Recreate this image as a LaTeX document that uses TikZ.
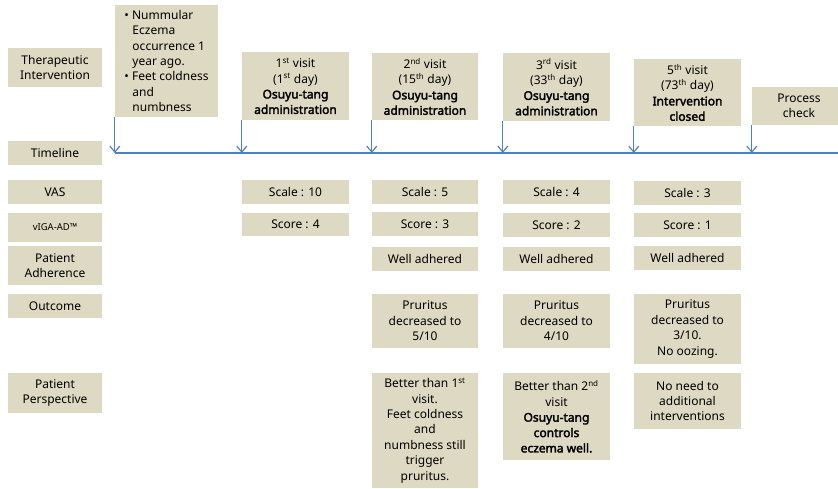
\documentclass[tikz,border=0pt]{standalone}
\usepackage{fontspec}
\setmainfont{Noto Sans}[BoldFont={Noto Sans},BoldFeatures={FakeBold=2.5}]
\usetikzlibrary{arrows.meta}
\definecolor{boxtan}{RGB}{221,217,195}
\definecolor{lineblue}{RGB}{79,129,189}

\begin{document}
\begin{tikzpicture}[x=1pt,y=-1pt,
  font=\fontsize{12}{15.4}\selectfont,
  lbl/.style={fill=boxtan, align=center, inner sep=1pt, minimum width=94pt},
  cell/.style={fill=boxtan, align=center, inner sep=1pt, minimum width=107pt},
  arr/.style={lineblue, line width=1.2pt, -{Straight Barb[length=6pt,width=10pt]}}]
\useasboundingbox (0,0) rectangle (838,488);

% row labels
\node[lbl, minimum height=39pt] (therapy) at (55,67.5) {Therapeutic\\Intervention};
\node[lbl, minimum height=24pt] (timeline) at (55,153) {Timeline};
\node[lbl, minimum height=24pt] (vas) at (55,192) {VAS};
\node[lbl, minimum height=29pt] (viga) at (55,227.5) {{\fontsize{9.5}{11}\selectfont vIGA-AD\texttrademark}};
\node[lbl, minimum height=39pt] (adher) at (55,265.5) {Patient\\Adherence};
\node[lbl, minimum height=24pt] (outcome) at (55,306) {Outcome};
\node[lbl, minimum height=40pt] (persp) at (55,393) {Patient\\Perspective};

% history
\node[fill=boxtan, align=left, inner sep=1pt, minimum width=103pt, minimum height=112pt] (hist) at (166.5,61)
  {\textbullet\ Nummular\\
   \hspace*{8pt}Eczema\\
   \hspace*{8pt}occurrence 1\\
   \hspace*{8pt}year ago.\\
   \textbullet\ Feet coldness\\
   \hspace*{8pt}and\\
   \hspace*{8pt}numbness};

% 1st visit
\node[cell, minimum height=68pt] (visitA) at (295.5,86) {1\textsuperscript{st} visit\\(1\textsuperscript{st} day)\\\textbf{Osuyu-tang}\\\textbf{administration}};
\node[cell, minimum height=24pt] (vasA) at (295.5,192) {Scale : 10};
\node[cell, minimum height=23pt] (igaA) at (295.5,224.5) {Score : 4};

% 2nd visit
\node[cell, minimum width=106pt, minimum height=67pt] (visitB) at (425,86.5) {2\textsuperscript{nd} visit\\(15\textsuperscript{th} day)\\\textbf{Osuyu-tang}\\\textbf{administration}};
\node[cell, minimum width=106pt, minimum height=24pt] (vasB) at (425,192) {Scale : 5};
\node[cell, minimum width=106pt, minimum height=24pt] (igaB) at (425,224) {Score : 3};
\node[cell, minimum width=106pt, minimum height=24pt] (adhB) at (425,259) {Well adhered};
\node[cell, minimum width=106pt, minimum height=54pt] (outB) at (425,321) {Pruritus\\decreased to\\5/10};
\node[cell, minimum width=106pt, minimum height=115pt] (perB) at (425,430.5) {Better than 1\textsuperscript{st}\\visit.\\Feet coldness\\and\\numbness still\\trigger\\pruritus.};

% 3rd visit
\node[cell, minimum height=68pt] (visitC) at (556.5,87) {3\textsuperscript{rd} visit\\(33\textsuperscript{th} day)\\\textbf{Osuyu-tang}\\\textbf{administration}};
\node[cell, minimum height=24pt] (vasC) at (556.5,192) {Scale : 4};
\node[cell, minimum height=24pt] (igaC) at (556.5,225) {Score : 2};
\node[cell, minimum height=24pt] (adhC) at (556.5,259) {Well adhered};
\node[cell, minimum height=54pt] (outC) at (556.5,321) {Pruritus\\decreased to\\4/10};
\node[cell, minimum height=87pt] (perC) at (556.5,416.5) {Better than 2\textsuperscript{nd}\\visit\\\textbf{Osuyu-tang}\\\textbf{controls}\\\textbf{eczema well.}};

% 5th visit
\node[cell, minimum height=67pt] (visitD) at (687.5,92.5) {5\textsuperscript{th} visit\\(73\textsuperscript{th} day)\\\textbf{Intervention}\\\textbf{closed}};
\node[cell, minimum height=24pt] (vasD) at (687.5,193) {Scale : 3};
\node[cell, minimum height=24pt] (igaD) at (687.5,225) {Score : 1};
\node[cell, minimum height=24pt] (adhD) at (687.5,258) {Well adhered};
\node[cell, minimum height=70pt] (outD) at (687.5,329) {Pruritus\\decreased to\\3/10.\\No oozing.};
\node[cell, minimum height=56pt] (perD) at (687.5,401) {No need to\\additional\\interventions};

% process check
\node[lbl, minimum height=38pt] (check) at (799,106) {Process\\check};

% timeline
\coordinate (tlstart) at (115,153);
\coordinate (tlend) at (838,153);
\draw[lineblue, line width=2pt] (tlstart) -- (tlend);

\draw[arr] (hist.south west) -- (hist.south west |- tlstart);
\draw[arr] (visitA.south west) -- (visitA.south west |- tlstart);
\draw[arr] (visitB.south west) -- (visitB.south west |- tlstart);
\draw[arr] (visitC.south west) -- (visitC.south west |- tlstart);
\draw[arr] (visitD.south west) -- (visitD.south west |- tlstart);
\draw[arr] (check.south west) -- (check.south west |- tlstart);
\end{tikzpicture}
\end{document}
